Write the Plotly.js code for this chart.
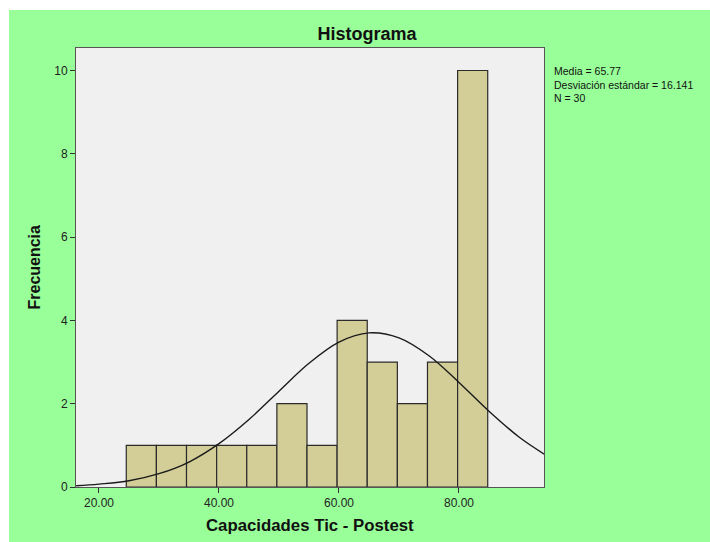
<!DOCTYPE html>
<html>
<head>
<meta charset="utf-8">
<script src="https://cdn.plot.ly/plotly-3.0.1.min.js"></script>
<style>
  html, body { margin: 0; padding: 0; background: #ffffff; overflow: hidden; width: 710px; height: 542px; }
  #wrap { position: absolute; left: 9px; top: 10px; width: 701px; height: 532px; }
  #chart { width: 701px; height: 532px; }
</style>
</head>
<body>
<div id="wrap"><div id="chart"></div></div>
<script>
// Histogram counts (bins of width ~5 starting near 24.5)
const binStart = 24.55;
const binWidth = 5.02;
const counts = [1, 1, 1, 1, 1, 2, 1, 4, 3, 2, 3, 10];

// Fitted normal curve
const curveX = [16.2, 20, 25, 30, 35, 40, 45, 50, 55, 60, 65, 70, 75, 80, 85, 90, 94.2];
const curveY = [0.03, 0.07, 0.15, 0.32, 0.60, 1.04, 1.62, 2.30, 2.97, 3.48, 3.70, 3.58, 3.15, 2.51, 1.82, 1.20, 0.79];

const xTickVals = [20, 40, 60, 80];
const xTickText = ["20.00", "40.00", "60.00", "80.00"];
const yTickVals = [0, 2, 4, 6, 8, 10];

const statsLines = ["Media = 65.77", "Desviación estándar = 16.141", "N = 30"];

const barX = counts.map((c, i) => binStart + binWidth * (i + 0.5));

const bars = {
  type: 'bar',
  x: barX,
  y: counts,
  width: binWidth,
  marker: { color: '#D3CE98', line: { color: '#2b2b2b', width: 1.2 } },
  hoverinfo: 'skip'
};

const curve = {
  type: 'scatter',
  mode: 'lines',
  x: curveX,
  y: curveY,
  line: { color: '#1a1a1a', width: 1.4, shape: 'spline' },
  hoverinfo: 'skip'
};

const fontFam = '"Liberation Sans", Arial, sans-serif';

const annotations = [
  {
    text: '<b>Capacidades Tic - Postest</b>', xref: 'paper', yref: 'paper',
    x: 0.5, y: -0.0866, xanchor: 'center', yanchor: 'middle', showarrow: false,
    font: { family: fontFam, size: 16.8, color: '#111' }
  },
  {
    text: '<b>Frecuencia</b>', xref: 'paper', yref: 'paper',
    x: -0.0897, y: 0.5, xanchor: 'center', yanchor: 'middle', showarrow: false, textangle: -90,
    font: { family: fontFam, size: 16, color: '#111' }
  },
  {
    text: statsLines.join('<br>'), xref: 'paper', yref: 'paper',
    x: 1.0175, y: (487 - 84) / 439, xanchor: 'left', yanchor: 'middle', align: 'left', showarrow: false,
    font: { family: fontFam, size: 10.5, color: '#111' }
  }
];

const layout = {
  width: 701,
  height: 532,
  margin: { l: 67, r: 166, t: 38, b: 55, pad: 0 },
  paper_bgcolor: '#99FF99',
  plot_bgcolor: '#F0F0F0',
  showlegend: false,
  bargap: 0,
  font: { family: fontFam, color: '#222' },
  title: {
    text: '<b>Histograma</b>',
    font: { family: fontFam, size: 18, color: '#111' },
    xref: 'paper', x: 0.622, xanchor: 'center',
    yref: 'container', y: 1 - 24 / 532, yanchor: 'middle'
  },
  xaxis: {
    range: [16.17, 94.17],
    tickvals: xTickVals,
    ticktext: xTickText,
    ticks: 'outside', ticklen: 5, tickcolor: '#333', tickwidth: 1,
    showgrid: false, zeroline: false,
    showline: true, linecolor: '#555', linewidth: 1, mirror: true,
    tickfont: { family: fontFam, size: 12, color: '#222' },
    fixedrange: true
  },
  yaxis: {
    range: [0, 10.54],
    tickvals: yTickVals,
    ticks: 'outside', ticklen: 5, tickcolor: '#333', tickwidth: 1,
    showgrid: false, zeroline: false,
    showline: true, linecolor: '#555', linewidth: 1, mirror: true,
    tickfont: { family: fontFam, size: 12, color: '#222' },
    fixedrange: true
  },
  annotations: annotations
};

Plotly.newPlot('chart', [bars, curve], layout, { displayModeBar: false, staticPlot: true });
</script>
</body>
</html>
